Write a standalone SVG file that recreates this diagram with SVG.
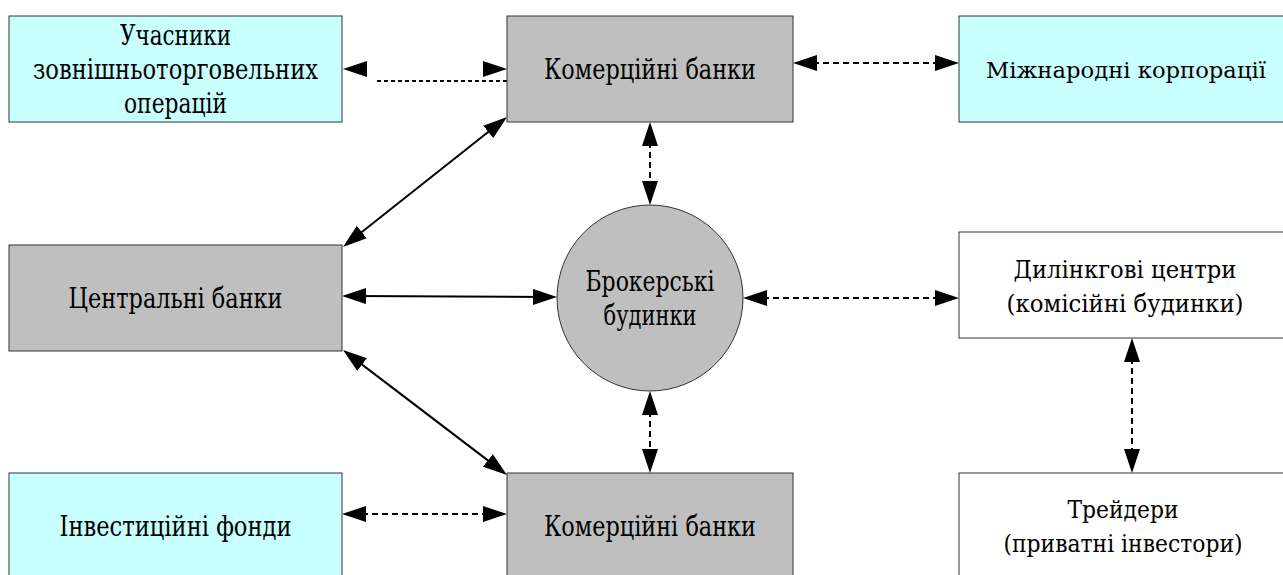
<svg xmlns="http://www.w3.org/2000/svg" width="1283" height="575" viewBox="0 0 1283 575">
<style>
.box{stroke:#333;stroke-width:1}
.cyan{fill:#C8FFFF}
.gray{fill:#BFBFBF}
.white{fill:#FFFFFF}
.t{font-family:'DejaVu Serif',serif;font-size:27px;fill:#000;text-anchor:middle}
.r{font-size:24px}
.solid{stroke:#000;stroke-width:2;fill:none}
.dash{stroke:#000;stroke-width:2;fill:none;stroke-dasharray:6 4}
.dot{stroke:#000;stroke-width:1.8;fill:none;stroke-dasharray:4 3}
</style>
<defs>
<marker id="ah" markerUnits="userSpaceOnUse" markerWidth="24" markerHeight="16" refX="14" refY="8" orient="auto-start-reverse" viewBox="0 0 24 16">
<path d="M0,0 L24,8 L0,16 z" fill="#000"/>
</marker>
<path id="head" d="M0,0 L24,8 L0,16 z" fill="#000"/>
</defs>
<rect width="1283" height="575" fill="#fff"/>

<g id="connectors">
<path class="dot" d="M377,81 H507"/>
<use href="#head" transform="translate(367,77) rotate(180)"/>
<use href="#head" transform="translate(483,61)"/>
<path class="dash" d="M803,63 H949" marker-start="url(#ah)" marker-end="url(#ah)"/>
<path class="solid" d="M350.8,240.8 L499.2,123.2" marker-start="url(#ah)" marker-end="url(#ah)"/>
<path class="solid" d="M352,296 L547,297" marker-start="url(#ah)" marker-end="url(#ah)"/>
<path class="solid" d="M351,356.1 L499,468.9" marker-start="url(#ah)" marker-end="url(#ah)"/>
<path class="dash" d="M650,132 V195" marker-start="url(#ah)" marker-end="url(#ah)"/>
<path class="dash" d="M650,401 V463" marker-start="url(#ah)" marker-end="url(#ah)"/>
<path class="dash" d="M753,298 H949" marker-start="url(#ah)" marker-end="url(#ah)"/>
<path class="dash" d="M352,514 H497" marker-start="url(#ah)" marker-end="url(#ah)"/>
<path class="dash" d="M1132,348 V463" marker-start="url(#ah)" marker-end="url(#ah)"/>
</g>

<g id="uchasnyky">
<rect class="box cyan" x="9" y="16" width="333" height="106"/>
<text class="t" x="175.5" y="45" textLength="111" lengthAdjust="spacingAndGlyphs">Учасники</text>
<text class="t" x="175.5" y="79" textLength="285" lengthAdjust="spacingAndGlyphs">зовнішньоторговельних</text>
<text class="t" x="175.5" y="113" textLength="103" lengthAdjust="spacingAndGlyphs">операцій</text>
</g>

<g id="komertsiini-top">
<rect class="box gray" x="507" y="16" width="286" height="106"/>
<text class="t" x="650" y="79" textLength="212" lengthAdjust="spacingAndGlyphs">Комерційні банки</text>
</g>

<g id="mizhnarodni">
<rect class="box cyan" x="959" y="16" width="330" height="106"/>
<text class="t" x="1126" y="78" font-size="23" style="font-size:23px" textLength="280" lengthAdjust="spacingAndGlyphs">Міжнародні корпорації</text>
</g>

<g id="tsentralni">
<rect class="box gray" x="9" y="245" width="333" height="106"/>
<text class="t" x="175.5" y="308" textLength="214" lengthAdjust="spacingAndGlyphs">Центральні банки</text>
</g>

<g id="brokerski">
<circle class="box gray" cx="650" cy="298" r="93"/>
<text class="t" x="650" y="291" textLength="129" lengthAdjust="spacingAndGlyphs">Брокерські</text>
<text class="t" x="650" y="325" textLength="93" lengthAdjust="spacingAndGlyphs">будинки</text>
</g>

<g id="dilinkovi">
<rect class="box white" x="959" y="232" width="330" height="106"/>
<text class="t r" x="1125" y="278" textLength="223" lengthAdjust="spacingAndGlyphs">Дилінкгові центри</text>
<text class="t r" x="1125" y="312" textLength="237" lengthAdjust="spacingAndGlyphs">(комісійні будинки)</text>
</g>

<g id="investytsiini">
<rect class="box cyan" x="9" y="473" width="333" height="106"/>
<text class="t" x="175.5" y="536" textLength="232" lengthAdjust="spacingAndGlyphs">Інвестиційні фонди</text>
</g>

<g id="komertsiini-bottom">
<rect class="box gray" x="507" y="473" width="286" height="106"/>
<text class="t" x="650" y="536" textLength="212" lengthAdjust="spacingAndGlyphs">Комерційні банки</text>
</g>

<g id="treidery">
<rect class="box white" x="959" y="473" width="330" height="106"/>
<text class="t r" x="1123" y="518" textLength="111" lengthAdjust="spacingAndGlyphs">Трейдери</text>
<text class="t r" x="1123" y="552" textLength="239" lengthAdjust="spacingAndGlyphs">(приватні інвестори)</text>
</g>
</svg>
